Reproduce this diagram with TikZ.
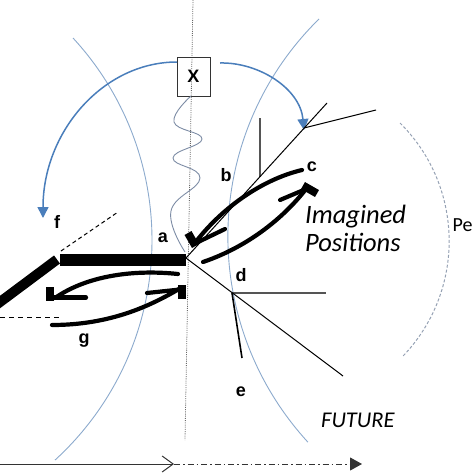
\documentclass[tikz,border=0pt]{standalone}
\usepackage{fontspec}
\setmainfont{Liberation Sans}
\newfontfamily\calfont{Carlito}
\usetikzlibrary{arrows.meta}
\definecolor{arcblue}{RGB}{140,170,205}
\definecolor{arrblue}{RGB}{74,126,187}
\definecolor{wavec}{RGB}{125,140,165}
\definecolor{dashg}{RGB}{150,162,180}
\definecolor{lgray}{RGB}{85,85,85}
\definecolor{dotg}{RGB}{105,105,105}
\begin{document}
\begin{tikzpicture}[x=1pt,y=-1pt,
  lbl/.style={font=\bfseries\fontsize{18}{18}\selectfont, inner sep=0pt},
  ital/.style={font=\calfont\itshape\fontsize{26.5}{28}\selectfont, inner sep=0pt, anchor=base west},
  thinblue/.style={draw=arcblue, line width=0.9pt},
  blkline/.style={draw=black, line width=1pt},
  grayline/.style={draw=lgray, line width=1.4pt},
  thickc/.style={line width=4.2pt, line cap=round},
  blockhead/.style={line width=8pt},
  armhead/.style={line width=4.2pt, line cap=round},
  bluearr/.style={draw=arrblue, line width=1.5pt, -{Triangle[length=11pt,width=11pt]}}
]
\useasboundingbox (0,0) rectangle (474,474);
\clip (0,0) rectangle (474,474);

% dotted vertical
\coordinate (vt) at (193,0);
\coordinate (vb) at (185,440);
\draw[dotg, line width=0.8pt, dash pattern=on 1pt off 1.2pt] (vt) -- (vb);

% thin blue arcs
\draw[thinblue] (73,38) arc[start angle=-42.7, end angle=47.6, radius=298];
\draw[thinblue] (319,19) arc[start angle=225.5, end angle=137.5, radius=304.7];
% dashed gray arc
\draw[dashg, line width=1pt, dash pattern=on 3pt off 2pt] (400,123) arc[start angle=-45.2, end angle=44.2, radius=166.4];

% X box
\node[draw=black!80, line width=0.9pt, minimum width=33pt, minimum height=39pt, inner sep=0pt, font=\bfseries\fontsize{18}{18}\selectfont] (X) at (193.5,76.5) {X};

% wave
\draw[wavec, line width=0.9pt] plot[smooth, tension=0.75] coordinates {(191,96) (174,122) (202,139) (173,158) (200,178) (171,211) (185,252)};

% blue curved arrows
\coordinate (fl) at (177,62);
\coordinate (fr) at (220,63);
\coordinate (tipR) at (304,130);
\draw[bluearr] (fl) arc[start angle=-90, end angle=-180, x radius=134, y radius=156];
\draw[bluearr] (fr) .. controls (258,62) and (300,88) .. (tipR);

% line fan
\coordinate (J) at (186,258);
\coordinate (P1) at (327,103);
\coordinate (B1) at (304,128);
\coordinate (B1e) at (376,110);
\coordinate (V1) at (260,118);
\coordinate (V2) at (260,176.7);
\coordinate (P2) at (343,376);
\coordinate (D) at (232,293);
\coordinate (De) at (326,293);
\coordinate (Ee) at (242,358);
\draw[grayline] (V1) -- (V2);
\draw[grayline] (D) -- (De);
\draw[blkline] (J) -- (P1);
\draw[blkline] (B1) -- (B1e);
\draw[blkline] (J) -- (P2);
\draw[black, line width=1.6pt] (D) -- (Ee);

% thick bar and diagonal
\coordinate (bl) at (60,254);
\coordinate (br) at (186,266);
\fill[black] (bl) rectangle (br);
\coordinate (dg0) at (-10,309.5);
\coordinate (dg1) at (57,259.5);
\draw[black, line width=10pt] (dg0) -- (dg1);
\coordinate (ds0) at (61,251);
\coordinate (ds1) at (118,212);
\draw[black, line width=1pt, dash pattern=on 4pt off 3pt] (ds0) -- (ds1);
\coordinate (dh0) at (0,317);
\coordinate (dh1) at (60,317);
\draw[black, line width=1pt, dash pattern=on 5pt off 4pt] (dh0) -- (dh1);

% thick arrows near g
\coordinate (a1t) at (178,274);
\coordinate (a1h) at (55,298);
\draw[thickc] (a1t) .. controls (130,269) and (85,277) .. (a1h);
\draw[blockhead] (50,287) -- (50,301);
\draw[armhead] (50,297.5) -- (86,297.5);
\coordinate (a2t) at (52,325);
\coordinate (a2h) at (179,289);
\draw[thickc] (a2t) .. controls (110,325) and (150,306) .. (a2h);
\draw[blockhead] (182,285) -- (182,299);
\draw[armhead] (180,289.5) -- (147,293);

% thick arrows near c
\coordinate (a3t) at (302,170);
\coordinate (a3h) at (195,243);
\draw[thickc] (a3t) .. controls (260,180) and (220,210) .. (a3h);
\draw[blockhead] (188,233) -- (195.5,246);
\draw[armhead] (196,243) -- (225,229);
\coordinate (a4t) at (203,262);
\coordinate (a4h) at (306,189);
\draw[thickc] (a4t) .. controls (250,246) and (285,216) .. (a4h);
\draw[blockhead] (303,185.5) -- (317,193.5);
\draw[armhead] (306,189) -- (280,200);

% bottom time arrow
\coordinate (t0) at (0,464);
\coordinate (t1) at (174,464);
\coordinate (t2) at (362,464);
\draw[black!80, line width=1pt, -{Straight Barb[length=11pt,width=16pt]}] (t0) -- (t1);
\draw[black!80, line width=1pt, dash pattern=on 6pt off 3pt on 1.5pt off 3pt, -{Triangle[length=12pt,width=13pt]}] (t1) -- (t2);

% labels
\node[lbl] (la) at (163,238) {a};
\node[lbl] (lb) at (226,175) {b};
\node[lbl] (lc) at (312,167) {c};
\node[lbl] (ld) at (241,275) {d};
\node[lbl] (le) at (241,392) {e};
\node[lbl] (lf) at (57,222) {f};
\node[lbl] (lg) at (84,341) {g};
\node[ital] (im) at (305,223) {Imagined};
\node[ital] (po) at (305,251) {Positions};
\node[ital, font=\calfont\itshape\fontsize{22.5}{24}\selectfont] (fu) at (321,427) {FUTURE};
\node[inner sep=0pt, anchor=base west, font=\calfont\fontsize{20}{20}\selectfont] (pe) at (452.5,231) {Pe};
\end{tikzpicture}
\end{document}
